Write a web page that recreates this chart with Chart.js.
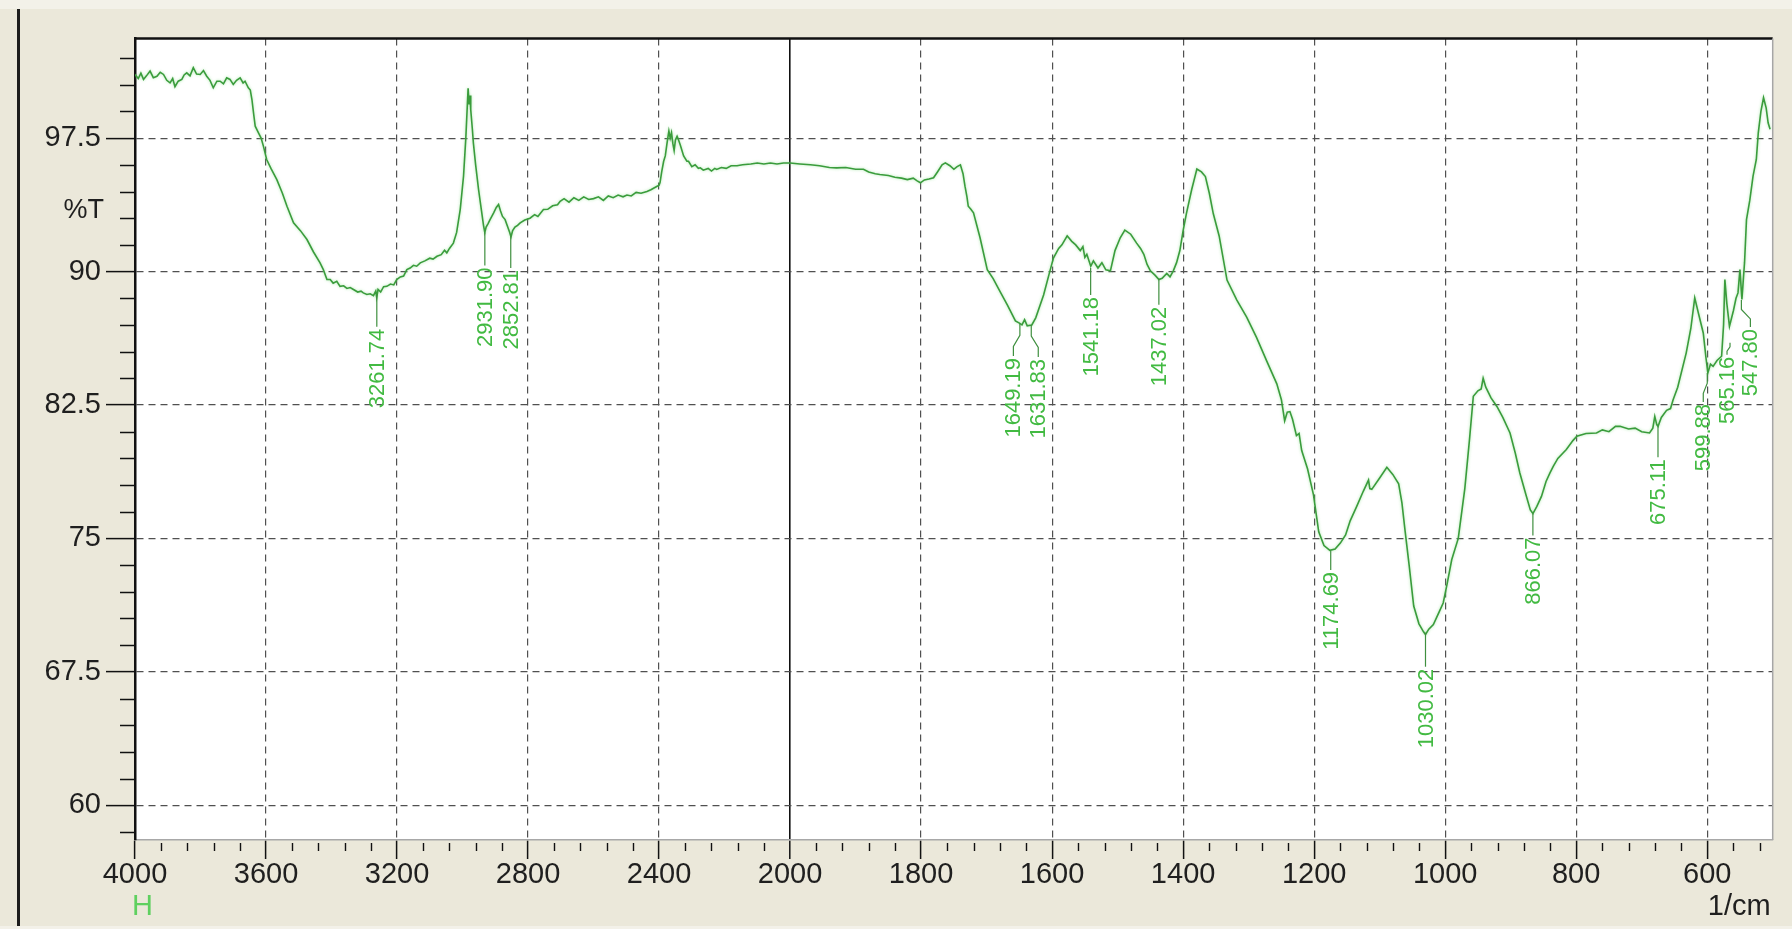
<!DOCTYPE html>
<html>
<head>
<meta charset="utf-8">
<title>FTIR spectrum</title>
<style>
  html, body { margin: 0; padding: 0; background: #ece9d8; }
  canvas { display: block; }
</style>
<script src="https://cdn.jsdelivr.net/npm/chart.js@4/dist/chart.umd.min.js"></script>
</head>
<body>
<canvas id="ir" width="1792" height="929"></canvas>
<script>
// ---- Spectrum: wavenumber (1/cm) and transmittance (%T) ----
const wavenumbers = [
  4000,3990,3982,3974,3965,3954,3944,3933,3923,3913,
  3903,3893,3885,3878,3868,3857,3850,3842,3832,3822,
  3812,3801,3791,3781,3771,3761,3750,3740,3730,3720,
  3710,3700,3690,3679,3670,3664,3654,3648,3643,3638,
  3633,3623,3615,3608,3598,3585,3567,3550,3536,3516,
  3495,3475,3455,3435,3425,3414,3404,3395,3384,3374,
  3363,3353,3343,3333,3320,3310,3303,3292,3282,3272,
  3265,3262,3258,3250,3241,3231,3220,3210,3201,3190,
  3180,3170,3160,3150,3140,3129,3115,3100,3090,3078,
  3065,3055,3048,3040,3028,3018,3007,2997,2990,2987,
  2983,2980,2977,2975,2970,2967,2960,2951,2942,2936,
  2932,2928,2922,2916,2905,2897,2890,2884,2878,2870,
  2862,2856,2852,2847,2840,2832,2824,2810,2794,2780,
  2770,2753,2740,2725,2710,2702,2690,2675,2660,2645,
  2630,2615,2600,2585,2570,2555,2540,2525,2510,2498,
  2485,2470,2455,2437,2425,2410,2400,2397,2392,2386,
  2381,2375,2370,2366,2362,2358,2354,2350,2345,2341,
  2335,2325,2315,2310,2300,2290,2280,2274,2265,2250,
  2240,2230,2224,2210,2195,2180,2162,2145,2120,2100,
  2080,2060,2040,2020,2000,1985,1969,1955,1940,1929,
  1915,1900,1888,1880,1870,1863,1850,1840,1830,1821,
  1812,1806,1801,1795,1788,1781,1775,1768,1763,1756,
  1750,1745,1740,1736,1733,1730,1728,1724,1720,1710,
  1699,1690,1679,1668,1656,1650,1646,1642,1638,1631,
  1625,1613,1605,1598,1590,1585,1577,1570,1564,1557,
  1553,1550,1547,1541,1537,1530,1524,1518,1511,1504,
  1496,1489,1480,1471,1465,1460,1455,1450,1443,1437,
  1432,1425,1420,1415,1410,1405,1400,1395,1387,1379,
  1372,1366,1360,1354,1345,1333,1318,1303,1288,1272,
  1257,1250,1245,1241,1237,1233,1227,1223,1219,1210,
  1201,1193,1185,1176,1168,1160,1152,1145,1135,1125,
  1117,1115,1112,1100,1089,1080,1071,1066,1061,1055,
  1048,1040,1033,1030,1025,1018,1010,1003,997,990,
  980,970,963,957,950,945,942,938,930,921,
  912,901,893,886,877,870,866,860,853,846,
  840,835,828,815,805,799,785,769,760,750,
  740,733,720,710,700,688,683,680,677,675,
  670,662,656,652,645,632,625,619,613,606,
  602,599,595,591,585,578,575,573,570,566,
  560,556,553,550,547,543,540,535,530,525,
  522,518,514,510,507,504
];
const transmittance = [
  101.08,100.85,101.15,100.80,101.00,101.27,100.90,100.98,101.20,101.08,
  100.75,100.61,100.85,100.39,100.70,100.80,101.05,101.17,101.00,101.46,
  101.10,101.08,101.30,100.98,100.75,100.33,100.70,100.70,100.55,100.89,
  100.80,100.52,100.75,100.89,100.60,100.70,100.33,100.20,99.67,98.90,
  98.17,97.80,97.50,97.05,96.30,95.80,95.17,94.40,93.67,92.74,
  92.30,91.80,91.10,90.49,90.11,89.55,89.55,89.35,89.45,89.17,
  89.20,89.05,89.10,88.99,88.85,88.90,88.80,88.71,88.75,88.65,
  88.90,88.55,89.00,88.85,89.15,89.17,89.30,89.25,89.55,89.70,
  89.75,90.11,90.20,90.35,90.30,90.49,90.60,90.75,90.70,90.86,
  90.95,91.20,91.05,91.30,91.60,92.20,93.50,95.36,97.50,98.70,
  100.30,99.40,99.90,99.10,98.00,97.24,96.00,94.60,93.40,92.60,
  92.20,92.50,92.70,92.92,93.30,93.60,93.77,93.40,93.10,92.92,
  92.50,92.20,91.95,92.30,92.50,92.60,92.74,92.90,93.00,93.20,
  93.10,93.49,93.50,93.70,93.75,93.95,94.10,93.90,94.15,94.00,
  94.20,94.05,94.10,94.20,94.00,94.25,94.15,94.30,94.20,94.30,
  94.25,94.45,94.40,94.50,94.60,94.75,94.85,95.00,95.60,96.20,
  96.50,97.30,97.90,97.50,97.80,97.20,96.80,97.40,97.60,97.42,
  97.10,96.50,96.20,96.20,95.90,96.00,95.80,95.83,95.70,95.80,
  95.65,95.80,95.74,95.85,95.80,95.95,95.95,96.00,96.05,96.10,
  96.05,96.10,96.05,96.10,96.10,96.05,96.00,95.95,95.85,95.83,
  95.85,95.75,95.75,95.60,95.50,95.46,95.40,95.30,95.25,95.17,
  95.25,95.10,94.99,95.15,95.20,95.27,95.60,96.00,96.11,95.95,
  95.75,95.90,96.00,95.50,94.80,94.20,93.67,93.50,93.30,91.90,
  90.11,89.60,88.85,88.10,87.23,87.10,87.00,87.30,86.95,87.00,
  87.40,88.68,89.80,90.76,91.30,91.50,92.01,91.70,91.50,91.18,
  91.40,90.80,90.97,90.30,90.60,90.20,90.50,90.10,90.04,91.18,
  91.90,92.33,92.10,91.60,91.30,90.97,90.40,90.04,89.80,89.55,
  89.62,89.90,89.70,90.04,90.50,91.18,92.30,93.26,94.60,95.76,
  95.60,95.34,94.40,93.26,92.00,89.52,88.40,87.44,86.30,84.94,
  83.69,82.80,81.61,82.10,82.13,81.70,80.78,80.90,79.94,78.90,
  77.45,75.37,74.60,74.33,74.40,74.74,75.20,75.99,76.80,77.65,
  78.28,77.80,77.76,78.40,79.00,78.60,78.07,77.00,75.37,73.50,
  71.20,70.20,69.75,69.60,69.90,70.16,70.80,71.37,72.45,73.80,
  75.00,77.80,80.50,82.99,83.30,83.40,84.00,83.50,82.90,82.42,
  81.80,80.93,79.80,78.68,77.50,76.60,76.40,76.80,77.36,78.20,
  78.68,79.05,79.50,80.00,80.50,80.74,80.90,80.93,81.10,81.00,
  81.30,81.30,81.15,81.20,81.00,80.93,81.20,81.86,81.40,81.30,
  81.80,82.20,82.30,82.80,83.50,85.43,86.80,88.52,87.60,86.55,
  85.20,84.30,84.80,84.67,85.00,85.24,87.00,89.55,88.20,86.92,
  87.80,88.50,88.80,90.11,88.43,90.50,92.92,94.00,95.36,96.30,
  97.80,99.00,99.77,99.20,98.36,98.00
];

// ---- Picked peaks ----
const peakWavenumbers   = [3261.74, 2931.90, 2852.81, 1649.19, 1631.83, 1541.18, 1437.02, 1174.69, 1030.02, 866.07, 675.11, 599.88, 565.16, 547.80];
const peakTransmittance = [88.70, 92.20, 92.00, 87.05, 87.00, 90.20, 89.60, 74.30, 69.70, 76.40, 81.30, 84.30, 86.00, 88.40];

// ---- Axis ticks ----
const xTickWavenumbers = [4000, 3600, 3200, 2800, 2400, 2000, 1800, 1600, 1400, 1200, 1000, 800, 600];
const yTickValues = [60, 67.5, 75, 82.5, 90, 97.5];
const xRange = [4000, 500];
const yRange = [58.05, 103.1];

// The wavenumber axis runs 4000 -> 500 with the region below 2000 1/cm
// expanded 2x. Data are placed on a linear "axis unit" scale.
const BREAK_WN = 2000;
function toAxis(wn) { return wn >= BREAK_WN ? 4000 - wn : 2000 + 2 * (BREAK_WN - wn); }

const FONT = "'Liberation Sans', Arial, sans-serif";
const INK = '#1f1f1f';
const TRACE = '#3a9c3c';
const PEAK_GREEN = '#42ba42';

// label placement: horizontal nudge of the text column and leader length (px)
const peakLabelLayout = [
  {dx: 0, drop: 32}, {dx: 0, drop: 33}, {dx: 0, drop: 32}, {dx: -6.5, drop: 32},
  {dx: 7, drop: 32}, {dx: 0, drop: 27}, {dx: 0, drop: 26}, {dx: 0, drop: 19},
  {dx: 0, drop: 34}, {dx: 0, drop: 22}, {dx: 0, drop: 31}, {dx: -4, drop: 29},
  {dx: -3, drop: 12}, {dx: 9, drop: 27}
];

const spectrumPlugin = {
  id: 'spectrumFrame',
  beforeDraw(chart) {
    const {ctx, chartArea: a, width, height} = chart;
    ctx.save();
    ctx.fillStyle = '#ebe8da';
    ctx.fillRect(0, 0, width, height);
    ctx.fillStyle = '#f3f1e9';
    ctx.fillRect(0, 0, width, 9);
    ctx.fillRect(0, 926, width, height - 926);
    ctx.fillStyle = '#1c1c1c';
    ctx.fillRect(17, 9, 3, 917);
    ctx.fillStyle = '#ffffff';
    ctx.fillRect(a.left, a.top, a.right - a.left, a.bottom - a.top);
    ctx.restore();
  },
  beforeDatasetsDraw(chart) {
    const {ctx, chartArea: a} = chart;
    const xs = chart.scales.x, ys = chart.scales.y;
    ctx.save();
    ctx.strokeStyle = '#111';
    ctx.lineWidth = 1.4;
    ctx.beginPath();
    // minor ticks below the wavenumber axis
    for (let wn = 4000; wn >= 500; wn -= (wn > BREAK_WN ? 80 : 40)) {
      if (xTickWavenumbers.includes(wn)) continue;
      const x = Math.round(xs.getPixelForValue(toAxis(wn))) + 0.5;
      ctx.moveTo(x, a.bottom + 3);
      ctx.lineTo(x, a.bottom + 11);
    }
    // minor ticks left of the %T axis
    for (let v = 58.5; v <= 102.01; v += 1.5) {
      if (yTickValues.some(t => Math.abs(t - v) < 1e-6)) continue;
      const y = Math.round(ys.getPixelForValue(v)) + 0.5;
      ctx.moveTo(a.left - 15, y);
      ctx.lineTo(a.left, y);
    }
    ctx.stroke();
    // top (dark) and right (light) frame edges of the plot
    ctx.strokeStyle = '#111';
    ctx.lineWidth = 2.5;
    ctx.beginPath();
    ctx.moveTo(a.left - 1, a.top);
    ctx.lineTo(a.right, a.top);
    ctx.stroke();
    ctx.strokeStyle = '#a6a6a6';
    ctx.lineWidth = 1.5;
    ctx.beginPath();
    ctx.moveTo(a.right, a.top);
    ctx.lineTo(a.right, a.bottom);
    ctx.stroke();
    ctx.restore();
  },
  beforeDatasetDraw(chart) {
    const ctx = chart.ctx;
    ctx.save();
    ctx.shadowColor = 'rgba(120, 215, 120, 0.6)';
    ctx.shadowBlur = 3;
  },
  afterDatasetDraw(chart) {
    chart.ctx.restore();
  },
  afterDatasetsDraw(chart) {
    const {ctx, chartArea: a} = chart;
    const xs = chart.scales.x, ys = chart.scales.y;
    ctx.save();
    // peak labels with leaders
    ctx.font = '22px ' + FONT;
    ctx.fillStyle = PEAK_GREEN;
    ctx.strokeStyle = '#3f8f3f';
    ctx.lineWidth = 1.2;
    peakWavenumbers.forEach((wn, i) => {
      const x0 = xs.getPixelForValue(toAxis(wn));
      const y0 = ys.getPixelForValue(peakTransmittance[i]);
      const {dx, drop} = peakLabelLayout[i];
      const x1 = x0 + dx;
      const yTop = y0 + drop;
      ctx.beginPath();
      ctx.moveTo(x0, y0);
      if (dx) {
        ctx.lineTo(x0, y0 + drop * 0.35);
        ctx.lineTo(x1, y0 + drop * 0.7);
      }
      ctx.lineTo(x1, yTop);
      ctx.stroke();
      ctx.save();
      ctx.translate(x1 + 1, yTop + 2);
      ctx.rotate(-Math.PI / 2);
      ctx.textAlign = 'right';
      ctx.textBaseline = 'middle';
      ctx.fillText(wn.toFixed(2), 0, 0);
      ctx.restore();
    });
    // axis captions
    ctx.fillStyle = INK;
    ctx.font = '27px ' + FONT;
    ctx.textAlign = 'right';
    ctx.textBaseline = 'middle';
    ctx.fillText('%T', a.left - 31, ys.getPixelForValue(93.45));
    ctx.font = '29px ' + FONT;
    ctx.fillText('1/cm', a.right - 2, 907);
    ctx.fillStyle = '#5fd05f';
    ctx.textAlign = 'left';
    ctx.fillText('H', a.left - 3, 907);
    ctx.restore();
  }
};

const gridDash = ctx => (ctx.tick && ctx.tick.value === toAxis(BREAK_WN)) ? [] : [7, 5];

new Chart(document.getElementById('ir'), {
  type: 'line',
  data: {
    datasets: [{
      label: '%T',
      data: wavenumbers.map((wn, i) => ({x: toAxis(wn), y: transmittance[i]})),
      borderColor: TRACE,
      borderWidth: 1.6,
      pointRadius: 0,
      tension: 0,
      fill: false
    }]
  },
  options: {
    responsive: false,
    animation: false,
    devicePixelRatio: 1,
    layout: {padding: {top: 38.5, right: 19.3, left: 0, bottom: 0}},
    plugins: {legend: {display: false}, tooltip: {enabled: false}},
    scales: {
      x: {
        type: 'linear',
        min: toAxis(xRange[0]),
        max: toAxis(xRange[1]),
        afterBuildTicks(scale) {
          scale.ticks = xTickWavenumbers.map(wn => ({value: toAxis(wn)}));
        },
        afterFit(scale) { scale.height = 89; },
        ticks: {
          autoSkip: false,
          maxRotation: 0,
          padding: -1,
          color: INK,
          font: {family: FONT, size: 29},
          callback: (value, index) => String(xTickWavenumbers[index])
        },
        grid: {
          color: ctx => {
            if (!ctx.tick) return '#505050';
            if (ctx.tick.value === 0) return 'rgba(0,0,0,0)';
            return ctx.tick.value === toAxis(BREAK_WN) ? '#111111' : '#505050';
          },
          lineWidth: ctx => (ctx.tick && ctx.tick.value === toAxis(BREAK_WN)) ? 1.6 : 1.2,
          drawTicks: true,
          tickLength: 19,
          tickColor: '#111',
          tickWidth: 1.5,
          tickBorderDash: []
        },
        border: {display: true, color: '#a8a8a8', width: 1.5, dash: gridDash}
      },
      y: {
        type: 'linear',
        min: yRange[0],
        max: yRange[1],
        afterBuildTicks(scale) {
          scale.ticks = yTickValues.map(v => ({value: v}));
        },
        afterFit(scale) { scale.width = 135; },
        ticks: {
          padding: 5,
          color: INK,
          font: {family: FONT, size: 29},
          callback: value => String(value)
        },
        grid: {
          color: '#505050',
          lineWidth: 1.2,
          drawTicks: true,
          tickLength: 29,
          tickColor: '#111',
          tickWidth: 1.5,
          tickBorderDash: []
        },
        border: {display: true, color: '#111', width: 2.5, dash: [7, 5]}
      }
    }
  },
  plugins: [spectrumPlugin]
});
</script>
</body>
</html>
